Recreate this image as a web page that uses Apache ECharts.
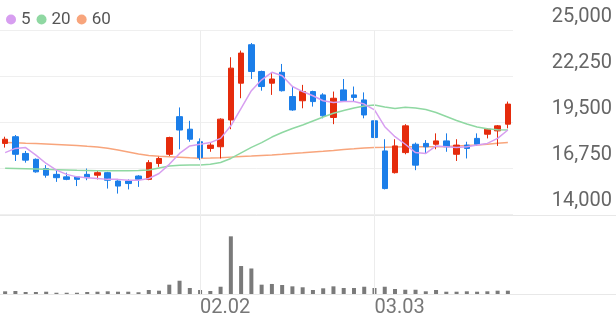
<!DOCTYPE html>
<html><head><meta charset="utf-8">
<script src="https://cdn.jsdelivr.net/npm/echarts@6/dist/echarts.min.js"></script>
<style>html,body{margin:0;padding:0;background:#fff}#c{width:616px;height:321px}</style>
</head><body><div id="c"></div>
<script>
const dates = ['01.06','01.07','01.08','01.09','01.12','01.13','01.14','01.15','01.16','01.19','01.20','01.21','01.22','01.23','01.26','01.27','01.28','01.29','01.30','02.02','02.03','02.04','02.05','02.06','02.09','02.10','02.11','02.12','02.13','02.19','02.20','02.23','02.24','02.25','02.26','02.27','03.03','03.04','03.05','03.06','03.09','03.10','03.11','03.12','03.13','03.16','03.17','03.18','03.19','03.20'];
const openP  = [18250,18650,17650,17300,16750,16400,16250,16250,16400,16350,16500,16000,16000,16300,16100,17050,17600,19850,19100,18350,17950,18050,19650,21850,24150,22550,21850,22500,21050,20800,21350,21150,19800,21450,21150,20850,19600,17800,16500,17700,18200,18250,18200,18400,17600,18150,18550,18800,19000,19400];
const closeP = [18500,17600,17250,16550,16350,16200,16100,16100,16200,16500,16050,15700,15850,16100,17100,17350,18600,19050,18500,17400,18150,19700,22750,23650,22550,21650,22100,21400,20250,21350,20750,19900,20950,20800,21000,19950,18600,15550,18100,19300,16950,18050,18400,18050,18150,17950,18200,19100,19300,20600];
const lowP   = [18000,17200,17100,16500,16200,15950,16050,15700,16050,16100,15550,15250,15500,15650,16050,16850,17500,17900,18350,17250,17750,17350,19100,20950,22100,21400,21150,21350,20200,20350,20450,19750,19400,20750,20750,19750,18550,15500,16450,17600,16650,17650,17900,17750,17200,17350,18100,18550,18100,19150];
const highP  = [18650,18750,17800,17350,16950,16650,16500,16250,16750,16600,16550,16050,16100,16350,17250,17450,18650,20400,19600,18550,18300,19750,23400,23800,24250,22600,22500,23000,21650,21750,21400,21250,21350,22100,21650,21300,20000,18500,18500,19400,18300,18450,18850,18850,18500,18350,18850,19150,19350,20750];
const ma5  = [17700,17950,18000,17550,17050,16650,16400,16250,16200,16150,16100,16100,16050,16050,16150,16450,17000,17650,18100,18200,18300,18550,19300,20350,21400,22050,22500,22300,21650,21350,21100,20800,20700,20750,20750,20600,20250,19250,18650,18200,17700,17650,18100,18050,18000,18050,18150,18250,18550,19050];
const ma20 = [16760,16750,16740,16720,16700,16680,16660,16640,16630,16620,16620,16620,16620,16630,16660,16780,16900,16940,16960,16960,17000,17110,17350,17680,18010,18300,18630,18900,19140,19350,19590,19830,20050,20220,20370,20490,20550,20430,20340,20410,20370,20280,20100,19860,19620,19410,19230,19120,19070,19050];
const ma60 = [18300,18290,18260,18240,18220,18190,18160,18130,18080,18040,17960,17860,17740,17620,17530,17480,17450,17420,17390,17370,17380,17400,17430,17460,17490,17530,17560,17600,17650,17690,17740,17780,17830,17890,17930,17980,18010,18020,18040,18050,18050,18050,18050,18070,18100,18130,18160,18200,18260,18300];
const volume = [34,38,25,25,29,16,16,16,25,29,34,29,29,22,51,42,118,168,76,51,38,92,730,354,323,118,127,114,97,85,51,72,97,76,76,92,76,92,63,54,54,34,51,29,29,34,29,34,42,42];
const yTicks = [14000,16750,19500,22250,25000];
const xLabels = ['02.02','03.03'];

const UP = '#e52b0c', DOWN = '#1b7ee9';
const ohlc = dates.map((d,i)=>[openP[i],closeP[i],lowP[i],highP[i]]);
const vline = {symbol:'none', silent:true, animation:false, label:{show:false},
  lineStyle:{color:'#ececec', type:'solid', width:1},
  data: xLabels.map(d=>({xAxis:d}))};

const chart = echarts.init(document.getElementById('c'));
chart.setOption({
  animation:false,
  textStyle:{fontFamily:'Roboto'},
  legend:{left:1, top:6, itemWidth:10, itemHeight:10, itemGap:6, icon:'circle',
    data:['5','20','60'], textStyle:{fontSize:17, color:'#555', fontFamily:'Roboto'}},
  grid:[
    {left:0, width:513, top:30.5, height:184},
    {left:0, width:513, top:215, height:79},
    {left:0, right:0, top:215, height:79}
  ],
  xAxis:[
    {type:'category', gridIndex:0, data:dates, boundaryGap:true, axisLine:{show:false}, axisTick:{show:false}, axisLabel:{show:false}, splitLine:{show:false}},
    {type:'category', gridIndex:1, data:dates, boundaryGap:true, axisLine:{show:false}, axisTick:{show:false}, splitLine:{show:false},
      axisLabel:{interval:(i,v)=>xLabels.indexOf(v)>=0, align:'left', fontSize:20, color:'#777', margin:4, fontFamily:'Roboto'}},
    {type:'value', gridIndex:2, min:0, max:1, show:false}
  ],
  yAxis:[
    {type:'value', gridIndex:0, position:'right', min:yTicks[0], max:yTicks[yTicks.length-1], interval:yTicks[1]-yTicks[0],
      axisLine:{show:false}, axisTick:{show:false},
      splitLine:{lineStyle:{color:'#efefef'}},
      axisLabel:{inside:false, align:'right', verticalAlign:'bottom', margin:99, padding:[0,0,4,0], fontSize:20, color:'#666', fontFamily:'Roboto',
        formatter:v=>v.toLocaleString('en-US')}},
    {type:'value', gridIndex:1, min:0, max:1000, show:false, splitLine:{show:false}},
    {type:'value', gridIndex:2, min:0, max:1, interval:1, axisLine:{show:false}, axisTick:{show:false}, axisLabel:{show:false},
      splitLine:{lineStyle:{color:'#e8e8e8'}}}
  ],
  series:[
    {type:'line', name:'60', xAxisIndex:0, yAxisIndex:0, data:ma60, symbol:'none', z:1,
      lineStyle:{color:'#f8a57c', width:1.5}, itemStyle:{color:'#f8a57c'}, markLine:vline},
    {type:'candlestick', xAxisIndex:0, yAxisIndex:0, data:ohlc, barWidth:6, z:2,
      itemStyle:{color:UP, color0:DOWN, borderColor:UP, borderColor0:DOWN, borderWidth:1}},
    {type:'line', name:'20', xAxisIndex:0, yAxisIndex:0, data:ma20, symbol:'none', z:3,
      lineStyle:{color:'#8fd8a2', width:1.5}, itemStyle:{color:'#8fd8a2'}},
    {type:'line', name:'5', xAxisIndex:0, yAxisIndex:0, data:ma5, symbol:'none', z:3,
      lineStyle:{color:'#d79ef0', width:1.5}, itemStyle:{color:'#d79ef0'}},
    {type:'bar', xAxisIndex:1, yAxisIndex:1, data:volume, barWidth:4, itemStyle:{color:'#7a7a7a'}, markLine:vline}
  ]
});
</script></body></html>
